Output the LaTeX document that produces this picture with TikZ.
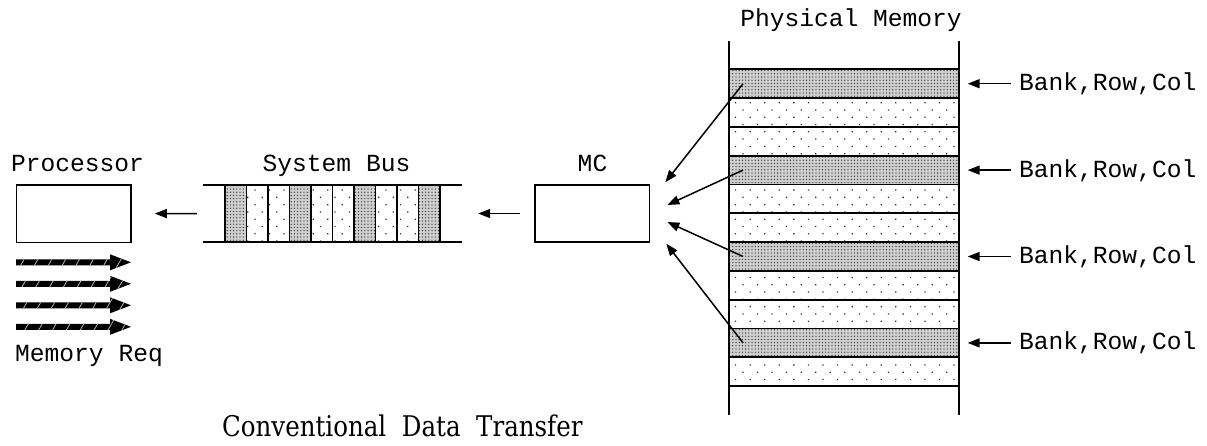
\documentclass[tikz,border=0pt]{standalone}
\usepackage{fontspec}
\setmonofont{Liberation Mono}
\newfontfamily\titlefont[FakeStretch=0.86]{DejaVu Serif}
\usetikzlibrary{patterns.meta,arrows.meta}

\begin{document}
\begin{tikzpicture}[x=1pt,y=-1pt,
  mono/.style={font=\ttfamily\fontsize{24.6}{28}\selectfont, inner sep=0pt},
  unitbox/.style={draw, line width=1.6pt, minimum width=114.5pt, minimum height=57.5pt, inner sep=0pt},
  conn/.style={line width=1.5pt, -{Triangle[length=12pt,width=9pt]}},
  densefill/.style={preaction={fill=gray!38}, pattern={Dots[distance=3.2pt,radius=0.65pt]}, pattern color=black!85},
  sparsefill/.style={pattern={Dots[distance=10.3pt,angle=45,radius=0.9pt]}, pattern color=black!80},
  memrow/.style={draw, line width=1.9pt, minimum width=230pt, minimum height=28.8pt, inner sep=0pt},
  buscell/.style={draw, line width=1.6pt, minimum width=21.5pt, minimum height=57pt, inner sep=0pt},
  reqarrow/.style={fill=black, postaction={pattern={Lines[angle=60,distance=12pt,line width=0.8pt]}, pattern color=white!70!black}},
]
\useasboundingbox (0,0) rectangle (1207,445);

% processor
\node[unitbox] (proc) at (73.8,213.6) {};
\node[mono, anchor=base] (proclbl) at (77.5,171.5) {Processor};

% system bus with its data cells
\node[minimum width=259pt, minimum height=57pt, inner sep=0pt] (bus) at (332.5,213.5) {};
\draw[line width=1.5pt] (bus.north west) -- (bus.north east) (bus.south west) -- (bus.south east);
\foreach \i in {0,...,9}{
  \pgfmathtruncatemacro\k{mod(\i,3)}
  \ifnum\k=0 \def\fillst{densefill}\else\def\fillst{sparsefill}\fi
  \node[buscell,\fillst] (c\i) at ({225+21.5*(\i+0.5)},213.5) {};
}
\node[mono, anchor=base] (buslbl) at (336.5,171) {System Bus};

% memory controller
\node[unitbox] (mc) at (592.3,213.5) {};
\node[mono, anchor=base] (mclbl) at (592.5,171) {MC};

% physical memory rows
\foreach \i in {0,...,10}{
  \pgfmathtruncatemacro\k{mod(\i,3)}
  \ifnum\k=0 \def\fillst{densefill}\else\def\fillst{sparsefill}\fi
  \node[memrow,\fillst] (r\i) at (844,{69.3+28.8*(\i+0.5)}) {};
}
\draw[line width=1.3pt] (729,41) -- (729,415) (959,41) -- (959,415);
\node[mono, anchor=base] (pmlbl) at (851,26.5) {Physical Memory};

% addressed rows
\foreach \i/\r in {0/0,1/3,2/6,3/9}{
  \node[mono, anchor=west, text height=14pt, text depth=0pt] (b\i) at ([xshift=59pt]r\r.east) {Bank,Row,Col};
  \draw[conn] ([xshift=-8pt]b\i.west) -- ([xshift=7.7pt]r\r.east);
}

% transfers
\draw[conn] ([xshift=-14pt]mc.west) -- ([xshift=16pt]bus.east);
\draw[conn] ([xshift=-6pt]bus.west) -- ([xshift=23pt]proc.east);
\draw[conn] ([xshift=15pt]r0.west) -- ([xshift=15pt,yshift=1.7pt]mc.north east);
\draw[conn] ([xshift=15pt]r3.west) -- ([xshift=17pt,yshift=8.5pt]mc.east);
\draw[conn] ([xshift=15pt]r6.west) -- ([xshift=17pt,yshift=-8.5pt]mc.east);
\draw[conn] ([xshift=15pt]r9.west) -- ([xshift=16pt,yshift=-0.7pt]mc.south east);

% memory requests
\foreach \i in {0,...,3}{
  \pgfmathsetmacro\yy{262.3+21.5*\i}
  \fill[reqarrow] (16,\yy-3) -- (110,\yy-3) -- (110,\yy-8) -- (131,\yy) -- (110,\yy+8) -- (110,\yy+3) -- (16,\yy+3) -- cycle;
}
\node[mono, anchor=base west] (mrlbl) at (15,361) {Memory Req};

\node[font=\titlefont\fontsize{28.5}{32}\selectfont, anchor=base west, inner sep=0pt] (title) at (222,436) {Conventional\ \ Data\ \ Transfer};
\end{tikzpicture}
\end{document}
